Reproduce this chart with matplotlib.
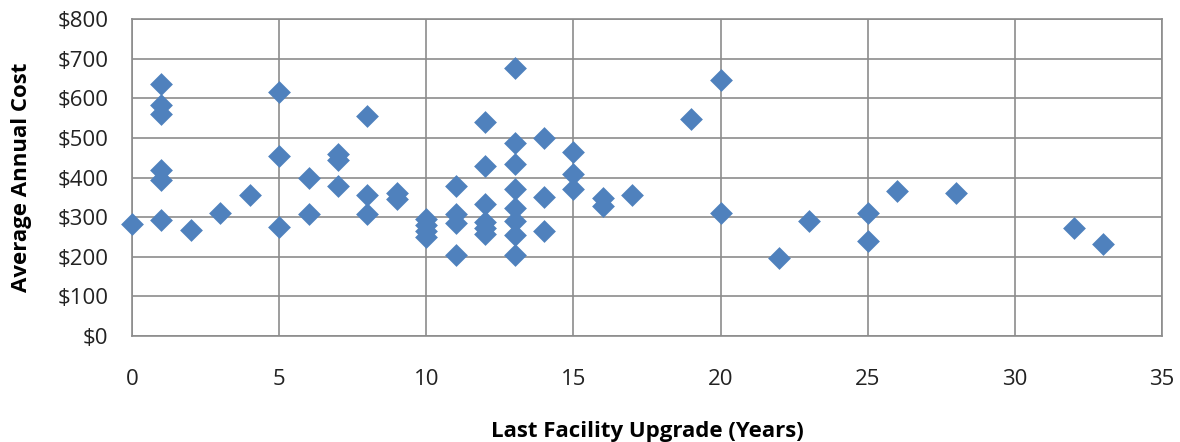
import matplotlib.pyplot as plt
from matplotlib.ticker import FuncFormatter

# Years since last facility upgrade vs average annual cost
years = [0, 1, 1, 1, 1, 1, 1, 2, 3, 4,
         5, 5, 5, 6, 6, 7, 7, 7, 8, 8, 8, 9, 9,
         10, 10, 10, 10, 11, 11, 11, 11,
         12, 12, 12, 12, 12, 12,
         13, 13, 13, 13, 13, 13, 13, 13,
         14, 14, 14, 15, 15, 15, 16, 16, 17,
         19, 20, 20, 22, 23, 25, 25, 26, 28, 32, 33]
cost = [283, 637, 582, 560, 419, 393, 293, 268, 310, 357,
        615, 455, 275, 398, 308, 460, 443, 378, 556, 357, 307, 361, 345,
        295, 280, 265, 250, 378, 308, 284, 204,
        541, 428, 332, 287, 272, 258,
        677, 488, 435, 370, 322, 290, 255, 204,
        499, 350, 266, 465, 408, 370, 349, 329, 356,
        548, 645, 310, 197, 290, 310, 239, 367, 362, 273, 232]

plt.rcParams['font.family'] = ['Open Sans', 'DejaVu Sans']

fig = plt.figure(figsize=(11.8, 4.42), dpi=100)
ax = fig.add_axes([132 / 1180, 1 - 336 / 442, (1162 - 132) / 1180, (336 - 19) / 442])

ax.scatter(years, cost, marker='D', s=135, color='#4F81BD', linewidths=0,
           zorder=3, clip_on=False)

ax.set_xlim(0, 35)
ax.set_ylim(0, 800)
ax.set_xticks(range(0, 36, 5))
ax.set_yticks(range(0, 801, 100))
ax.yaxis.set_major_formatter(FuncFormatter(lambda v, p: '${:.0f}'.format(v)))

ax.grid(True, color='#8c8c8c', linewidth=1.2)
ax.set_axisbelow(True)
for s in ax.spines.values():
    s.set_color('#8c8c8c')
    s.set_linewidth(1.2)

ax.tick_params(length=0, labelsize=16, colors='#222222')
ax.tick_params(axis='x', pad=24)
ax.tick_params(axis='y', pad=17)

ax.set_xlabel('Last Facility Upgrade (Years)', fontsize=16, fontweight='bold', labelpad=22)
ax.set_ylabel('Average Annual Cost', fontsize=16, fontweight='bold', labelpad=18)

fig.savefig('out.png', dpi=100)
